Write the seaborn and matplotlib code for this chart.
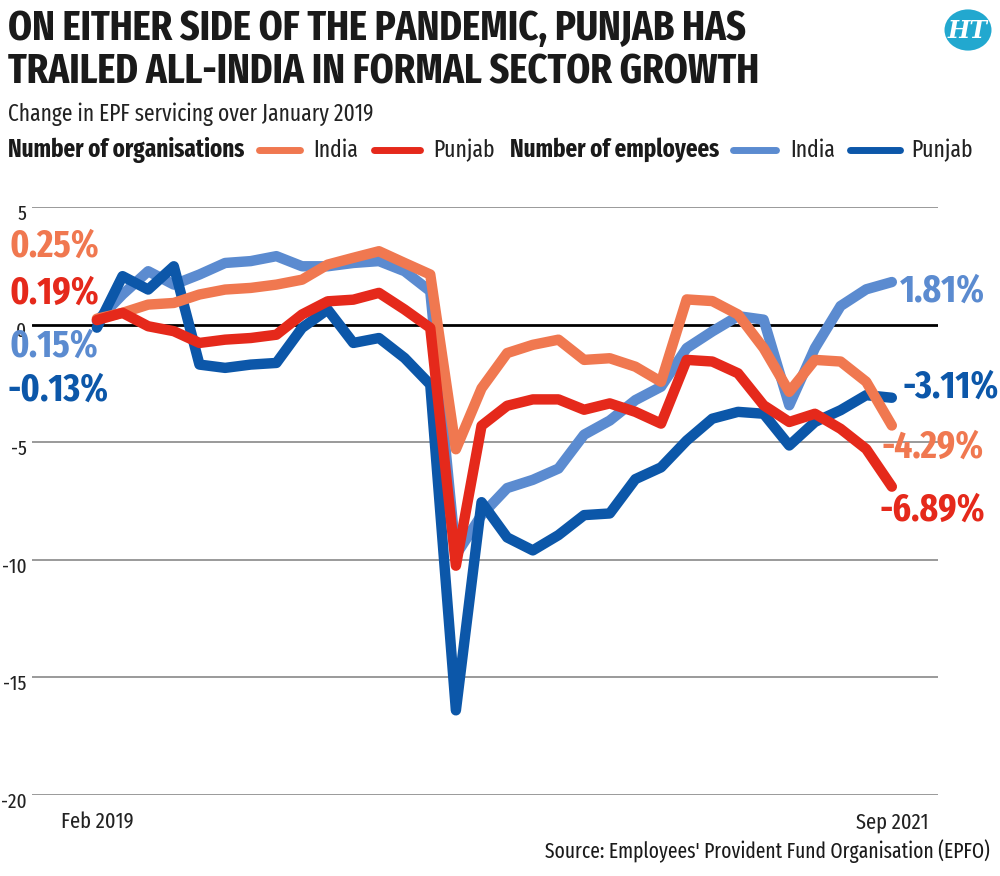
import numpy as np
import pandas as pd
import matplotlib.pyplot as plt
import matplotlib.transforms as mtransforms
import seaborn as sns
from matplotlib import font_manager
from matplotlib.lines import Line2D
from matplotlib.patches import Circle

# Data: change in EPF servicing over January 2019 (%), Feb 2019 .. Sep 2021
months = pd.date_range("2019-02-01", "2021-09-01", freq="MS")

india_orgs = [0.25, 0.50, 0.85, 0.92, 1.28, 1.49, 1.56, 1.70, 1.91, 2.55, 2.84, 3.12,
              2.62, 2.13, -5.30, -2.71, -1.21, -0.86, -0.64, -1.50, -1.43, -1.79,
              -2.43, 1.07, 1.00, 0.43, -1.00, -2.86, -1.50, -1.57, -2.43, -4.29]
punjab_orgs = [0.19, 0.50, -0.07, -0.28, -0.78, -0.64, -0.57, -0.43, 0.43, 0.99, 1.06, 1.35,
               0.64, -0.14, -10.25, -4.30, -3.45, -3.18, -3.18, -3.62, -3.35, -3.71,
               -4.21, -1.50, -1.57, -2.07, -3.43, -4.14, -3.79, -4.43, -5.29, -6.89]
india_emp = [0.15, 1.28, 2.27, 1.70, 2.13, 2.62, 2.70, 2.91, 2.48, 2.48, 2.62, 2.70,
             2.27, 1.42, -9.80, -8.10, -6.95, -6.60, -6.12, -4.68, -4.08, -3.21,
             -2.64, -1.00, -0.29, 0.36, 0.21, -3.43, -1.00, 0.79, 1.50, 1.81]
punjab_emp = [-0.13, 2.06, 1.49, 2.48, -1.70, -1.84, -1.70, -1.63, -0.14, 0.64, -0.78, -0.57,
              -1.42, -2.55, -16.40, -7.55, -9.05, -9.60, -8.95, -8.10, -8.03, -6.57,
              -6.07, -4.93, -4.00, -3.71, -3.79, -5.14, -4.14, -3.64, -3.00, -3.11]

series_names = ["India employees", "Punjab employees", "India organisations", "Punjab organisations"]
series_values = [india_emp, punjab_emp, india_orgs, punjab_orgs]
colors = {"India organisations": "#F07850",
          "Punjab organisations": "#E5291B",
          "India employees": "#5B8BD0",
          "Punjab employees": "#0C57A9"}

yticks = [-20, -15, -10, -5, 0, 5]

df = pd.concat([pd.DataFrame({"idx": np.arange(len(months)), "value": v, "series": n})
                for n, v in zip(series_names, series_values)], ignore_index=True)

# pick a condensed face, the reference uses a narrow sans
available = {f.name for f in font_manager.fontManager.ttflist}
FONT, STRETCH = "DejaVu Sans", "condensed"
for name in ["Fira Sans Extra Condensed", "Fira Sans Condensed", "Barlow Condensed",
             "Roboto Condensed", "Asap Condensed", "Archivo Narrow"]:
    if name in available:
        FONT, STRETCH = name, "normal"
        break

sns.set_style("white")
plt.rcParams["font.family"] = [FONT, "DejaVu Sans"]
plt.rcParams["font.stretch"] = STRETCH
plt.rcParams["axes.unicode_minus"] = False

W, H = 1000, 876
fig = plt.figure(figsize=(W / 100, H / 100), dpi=100)

def fx(x):
    return x / W

def fy(y):
    return 1 - y / H

ax = fig.add_axes([fx(32), fy(795), fx(938) - fx(32), fy(207) - fy(795)])

sns.lineplot(data=df, x="idx", y="value", hue="series", hue_order=series_names,
             palette=colors, linewidth=7.5, legend=False, ax=ax)
for line in ax.get_lines():
    line.set_solid_capstyle("round")
    line.set_solid_joinstyle("round")
    line.set_clip_on(False)
    line.set_zorder(3)

# grid and zero line
for t in yticks:
    if t == 0:
        ax.axhline(0, color="black", lw=2, zorder=1)
    else:
        ax.axhline(t, color="#9a9a9a", lw=1.4, zorder=1)

ax.set_xlim(-2.53, 32.8)
ax.set_ylim(-20, 5)
for s in ax.spines.values():
    s.set_visible(False)

ax.set_yticks(yticks)
ax.set_yticklabels([str(t) for t in yticks], fontsize=15, color="#222222")
ax.tick_params(axis="y", length=0, pad=4)
# labels sit a little below their gridline in the reference
shift = mtransforms.ScaledTranslation(0, -5 / 100, fig.dpi_scale_trans)
for lab in ax.get_yticklabels():
    lab.set_transform(lab.get_transform() + shift)

ax.set_xticks(np.arange(len(months)))
xlabels = [""] * len(months)
xlabels[0] = months[0].strftime("%b %Y")
xlabels[-1] = months[-1].strftime("%b %Y")
ax.set_xticklabels(xlabels, fontsize=16, color="#222222")
ax.tick_params(axis="x", length=8, width=1, color="#9a9a9a", pad=4, direction="out")
ax.set_xlabel("")
ax.set_ylabel("")

# start / end value labels
last = len(months) - 1
label_specs = [
    (india_orgs, 0, (-87, 72), "#F07850"),
    (punjab_orgs, 0, (-87, 27), "#E5291B"),
    (india_emp, 0, (-87, -25), "#5B8BD0"),
    (punjab_emp, 0, (-89, -63), "#0C57A9"),
    (india_emp, last, (8, -9), "#5B8BD0"),
    (punjab_emp, last, (11, 10), "#0C57A9"),
    (india_orgs, last, (-10, -22), "#F07850"),
    (punjab_orgs, last, (-12, -24), "#E5291B"),
]
for vals, i, off, c in label_specs:
    ax.annotate(f"{vals[i]:.2f}%", xy=(i, vals[i]), xytext=off, textcoords="offset pixels",
                ha="left", va="center", fontsize=27.5, fontweight="bold", color=c,
                annotation_clip=False, zorder=5)

# title block
fig.text(fx(8), fy(29), "ON EITHER SIDE OF THE PANDEMIC, PUNJAB HAS", fontsize=30,
         fontweight="bold", color="#1a1a1a", va="center", ha="left")
fig.text(fx(8), fy(72), "TRAILED ALL-INDIA IN FORMAL SECTOR GROWTH", fontsize=30,
         fontweight="bold", color="#1a1a1a", va="center", ha="left")
fig.text(fx(8), fy(114), "Change in EPF servicing over January 2019", fontsize=16.8,
         color="#222222", va="center", ha="left")

# legend row
legend_y = fy(150)
fig.text(fx(8), legend_y, "Number of organisations", fontsize=18, fontweight="bold",
         color="#1a1a1a", va="center", ha="left")
fig.text(fx(510), legend_y, "Number of employees", fontsize=18, fontweight="bold",
         color="#1a1a1a", va="center", ha="left")
legend_items = [("India", "India organisations", 259, 300, 313),
                ("Punjab", "Punjab organisations", 374, 420, 433),
                ("India", "India employees", 733, 776, 790),
                ("Punjab", "Punjab employees", 850, 900, 911)]
for text, key, x0, x1, xt in legend_items:
    fig.add_artist(Line2D([fx(x0), fx(x1)], [legend_y, legend_y], transform=fig.transFigure,
                          color=colors[key], lw=5, solid_capstyle="round"))
    fig.text(fx(xt), legend_y, text, fontsize=17, color="#222222", va="center", ha="left")

# HT logo
fig.add_artist(Circle((fx(968), fy(30)), 23.5 / W, transform=fig.transFigure,
                      facecolor="#22A8CF", edgecolor="none"))
fig.text(fx(968), fy(31), "HT", fontsize=17, fontweight="bold", fontstyle="italic",
         family="DejaVu Serif", color="white", ha="center", va="center")

fig.text(fx(990), fy(851), "Source: Employees' Provident Fund Organisation (EPFO)",
         fontsize=15.3, color="#1a1a1a", ha="right", va="center")

fig.savefig("out.png", dpi=100)
